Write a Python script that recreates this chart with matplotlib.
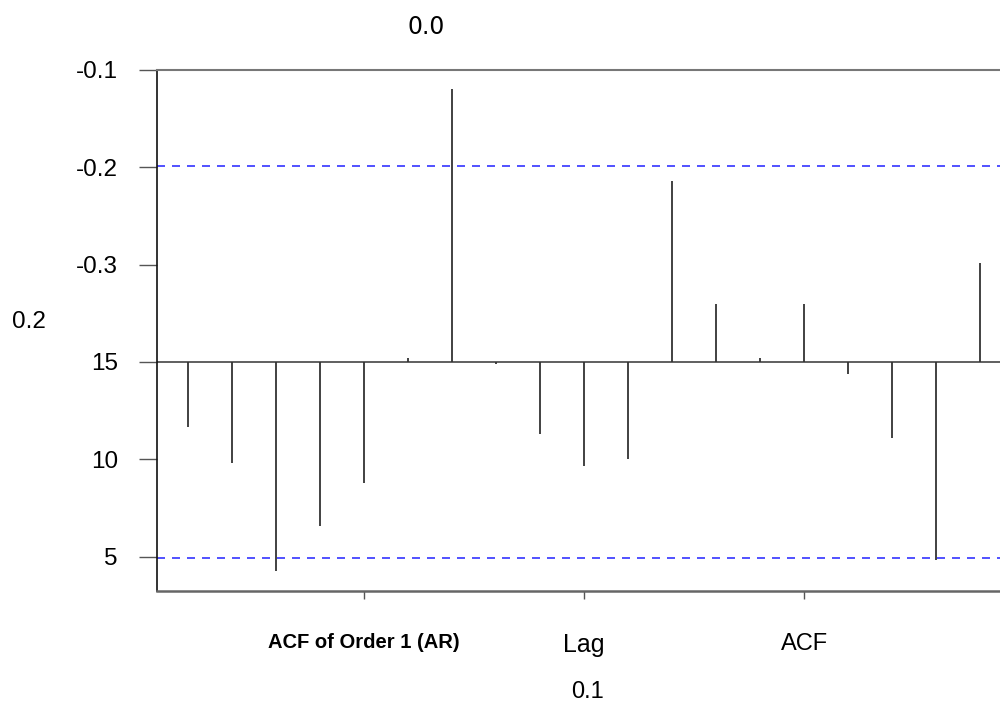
import numpy as np
import matplotlib
matplotlib.use("Agg")
import matplotlib.pyplot as plt

# ACF values (lags 1..19)
lags = np.arange(1, 20)
acf_vals = [-0.067, -0.104, -0.215, -0.169, -0.124, 0.004, 0.280, -0.002,
            -0.074, -0.107, -0.100, 0.186, 0.060, 0.004, 0.060, -0.012,
            -0.078, -0.204, 0.102]
conf_bound = 0.201

# Tick positions and the (odd) labels shown on the chart
y_ticks = [0.3, 0.2, 0.1, 0.0, -0.1, -0.2]
y_tick_labels = ["-0.1", "-0.2", "-0.3", "15", "10", "5"]
x_ticks = [5, 10, 15]
x_tick_labels = ["ACF of Order 1 (AR)", "Lag", "ACF"]

title_text = "0.0"
xlabel_text = "0.1"
ylabel_text = "0.2"

plt.rcParams['font.family'] = ['Liberation Sans', 'DejaVu Sans']

fig = plt.figure(figsize=(10, 7.09), dpi=100)
ax = fig.add_axes([0.1567, 0.1664, 0.8433, 0.7349])

# significance bounds
ax.axhline(conf_bound, color='#3333ff', lw=1.2, dashes=(4.8, 4.2), zorder=1)
ax.axhline(-conf_bound, color='#3333ff', lw=1.2, dashes=(4.8, 4.2), zorder=1)

# zero line and ACF spikes
ax.axhline(0, color='#444444', lw=1.2, zorder=2)
ax.vlines(lags, 0, acf_vals, color='#333333', lw=1.3, zorder=3)

ax.set_xlim(0.29, 19.45)
ax.set_ylim(-0.2354, 0.3)

ax.set_yticks(y_ticks)
ax.set_yticklabels(y_tick_labels, fontsize=17.5)
ax.tick_params(axis='y', length=13, width=1, color='#555555', pad=15)

ax.set_xticks(x_ticks)
ax.set_xticklabels(x_tick_labels)
ax.tick_params(axis='x', length=6, width=1, color='#555555', pad=24)
xt = ax.get_xticklabels()
xt[0].set_fontsize(14.5)
xt[0].set_fontweight('bold')
xt[1].set_fontsize(18)
xt[2].set_fontsize(17)

ax.spines['right'].set_visible(False)
ax.spines['left'].set_color('#111111')
ax.spines['left'].set_linewidth(1.2)
ax.spines['top'].set_color('#777777')
ax.spines['top'].set_linewidth(1.5)
ax.spines['bottom'].set_color('#666666')
ax.spines['bottom'].set_linewidth(1.8)

ax.set_title(title_text, fontsize=17, family='DejaVu Sans', x=0.32, y=1.07, pad=0)
ax.set_xlabel(xlabel_text, fontsize=17)
ax.xaxis.set_label_coords(0.511, -0.173)
ax.set_ylabel(ylabel_text, fontsize=17.5, rotation=0, va='center', ha='center')
ax.yaxis.set_label_coords(-0.152, 0.516)

fig.savefig("out.png", dpi=100)
